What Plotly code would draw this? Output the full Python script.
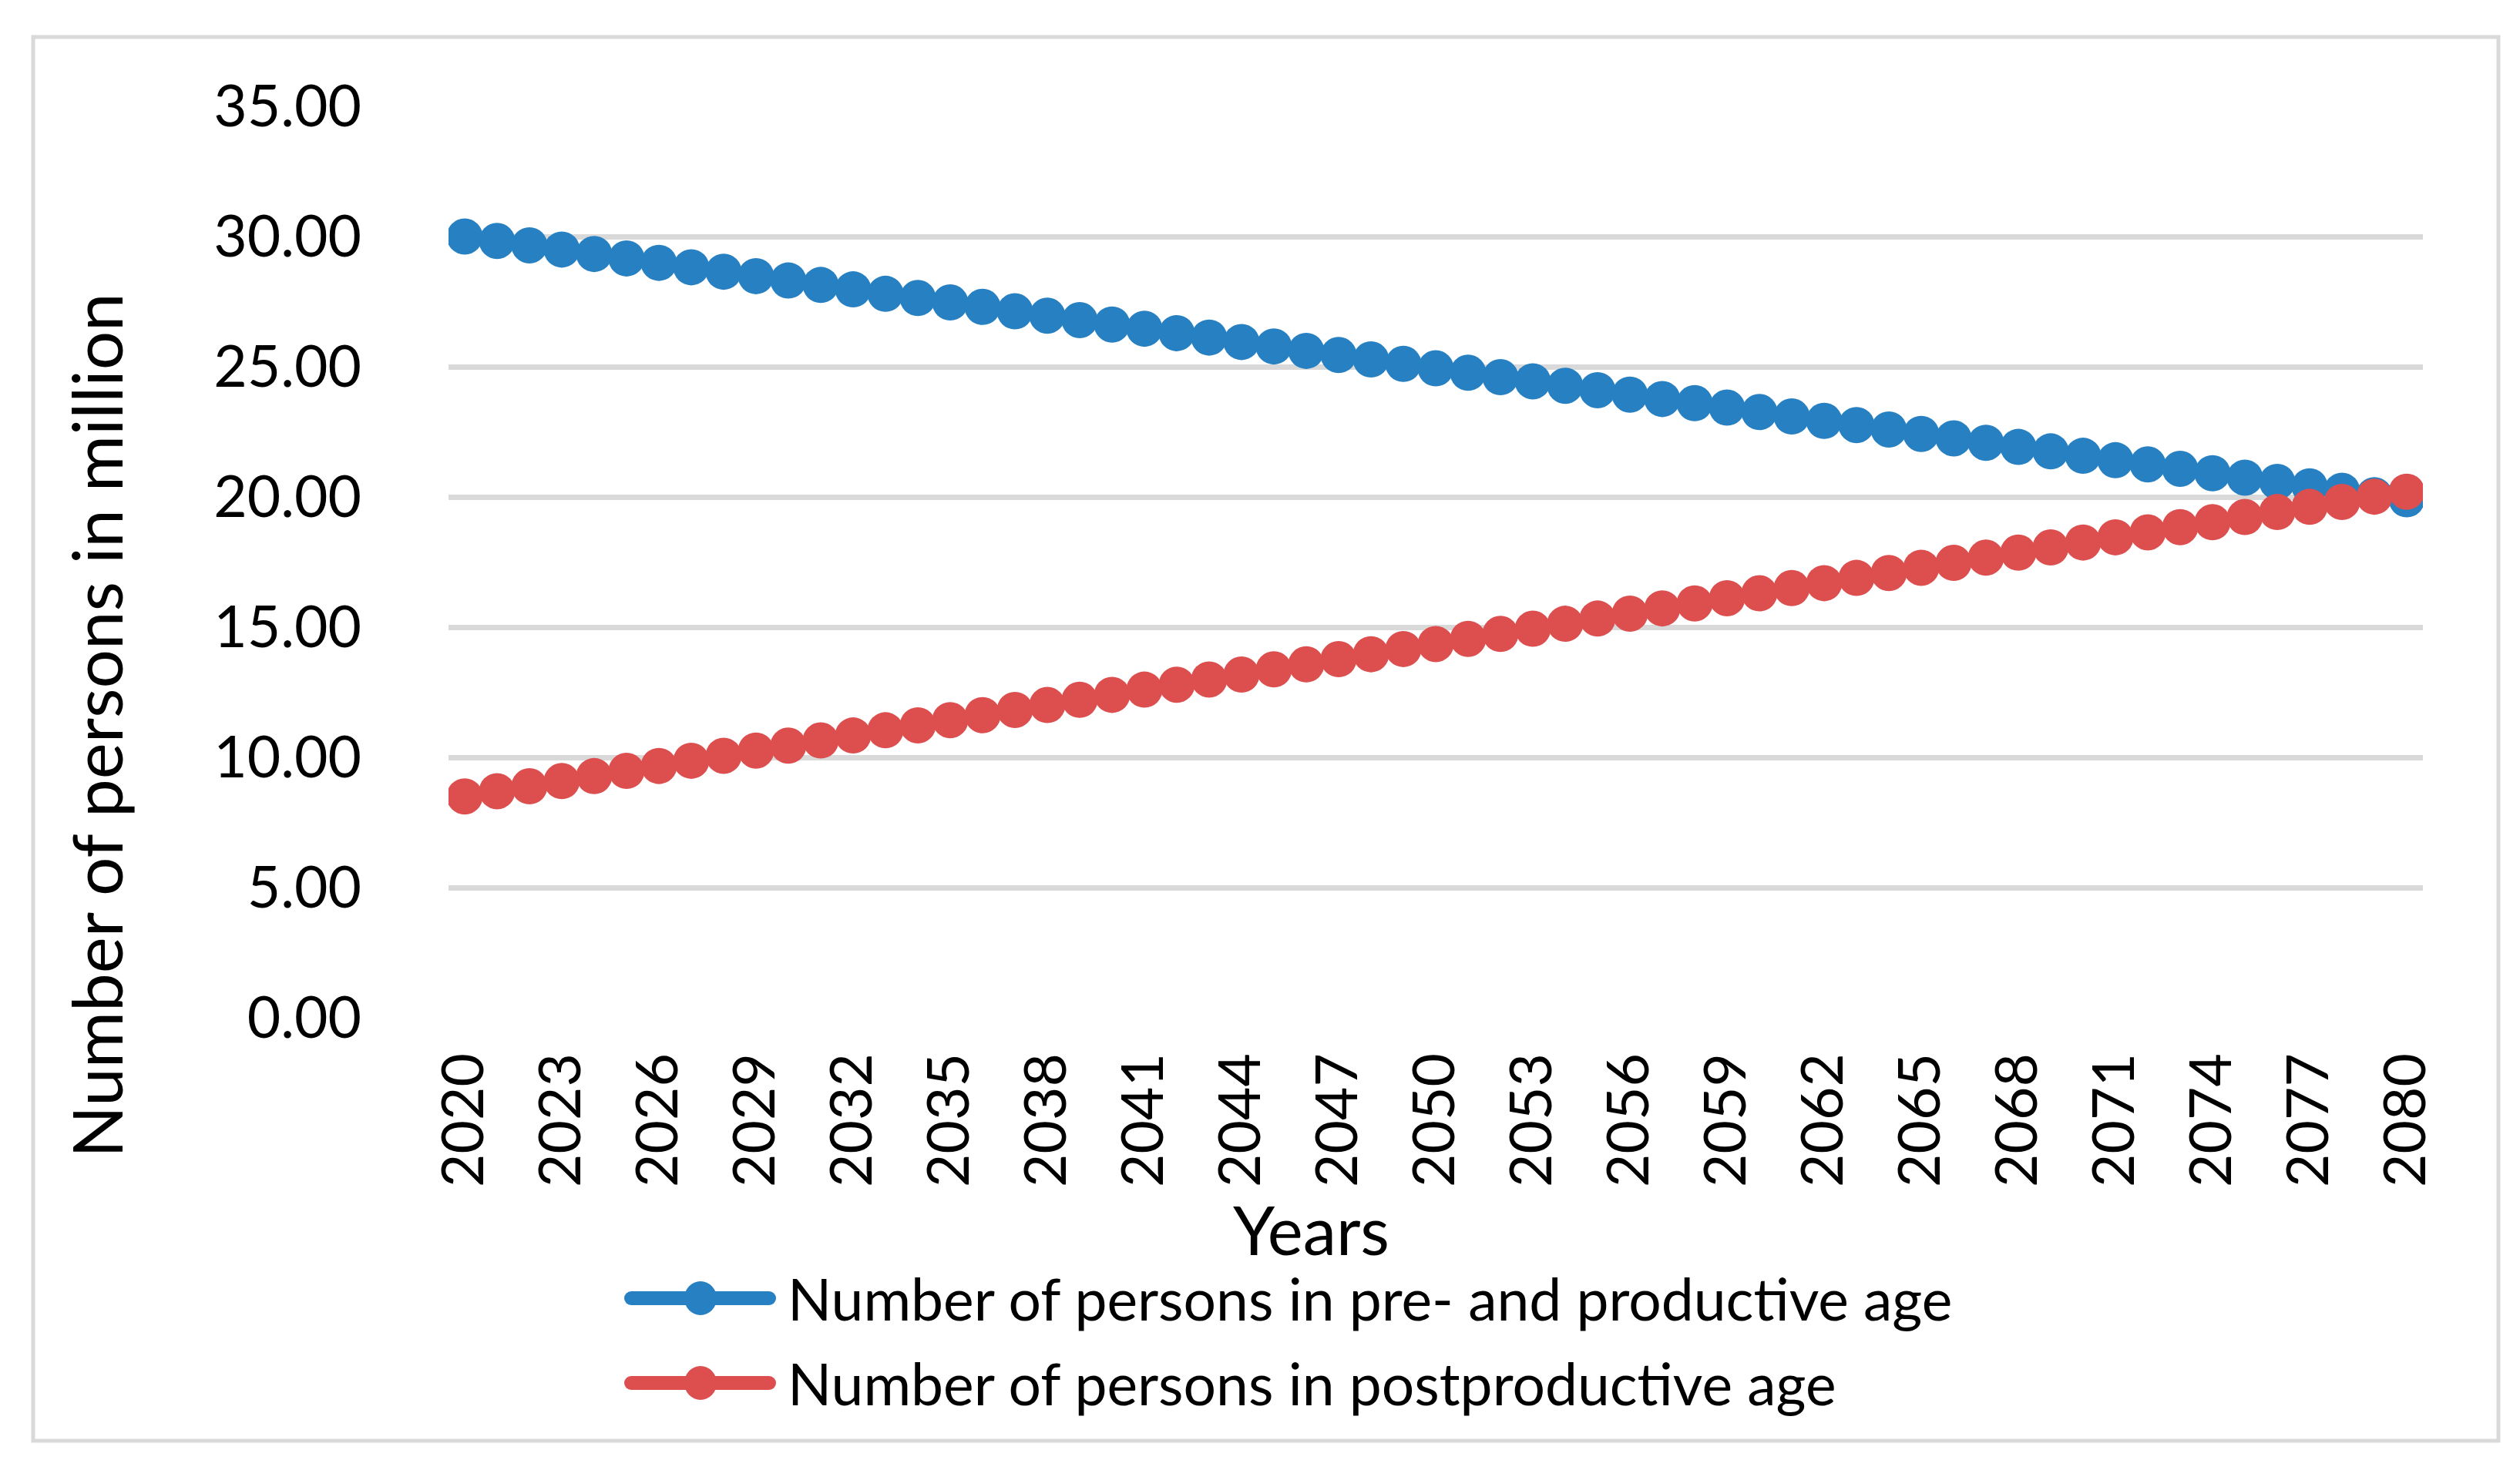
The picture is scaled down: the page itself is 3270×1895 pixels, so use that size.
import plotly.graph_objects as go

years = list(range(2020, 2081))

pre_productive = [
    30.00, 29.83, 29.66, 29.50, 29.33, 29.16, 28.99, 28.82, 28.65, 28.48,
    28.31, 28.14, 27.97, 27.80, 27.64, 27.47, 27.30, 27.13, 26.96, 26.79,
    26.62, 26.46, 26.29, 26.12, 25.95, 25.78, 25.61, 25.45, 25.28, 25.11,
    24.94, 24.77, 24.60, 24.44, 24.27, 24.10, 23.93, 23.76, 23.60, 23.43,
    23.26, 23.09, 22.92, 22.76, 22.59, 22.42, 22.25, 22.08, 21.92, 21.75,
    21.58, 21.41, 21.25, 21.08, 20.91, 20.74, 20.58, 20.41, 20.24, 20.07,
    19.91,
]

post_productive = [
    8.50, 8.70, 8.89, 9.09, 9.28, 9.48, 9.67, 9.87, 10.06, 10.26,
    10.45, 10.65, 10.84, 11.04, 11.23, 11.43, 11.62, 11.82, 12.01, 12.21,
    12.40, 12.60, 12.79, 12.99, 13.18, 13.38, 13.57, 13.77, 13.96, 14.16,
    14.35, 14.55, 14.74, 14.94, 15.13, 15.33, 15.52, 15.72, 15.91, 16.11,
    16.30, 16.50, 16.69, 16.89, 17.08, 17.28, 17.47, 17.67, 17.86, 18.06,
    18.25, 18.45, 18.64, 18.84, 19.03, 19.23, 19.42, 19.62, 19.81, 20.01,
    20.20,
]

series_names = [
    "Number of persons in pre- and productive age",
    "Number of persons in postproductive age",
]
series_colors = ["#2680C2", "#DD4F4F"]

x_tick_years = list(range(2020, 2081, 3))
y_tick_vals = [0, 5, 10, 15, 20, 25, 30, 35]

W, H = 3270, 1895
L, R, T, B = 574, 3136, 130, 1313  # plot area pixel edges
FONT = "Lato"


def px_x(px):
    return (px - L) / (R - L)


def px_y(py):
    return (B - py) / (B - T)


fig = go.Figure()
for vals, name, col in zip([pre_productive, post_productive], series_names, series_colors):
    fig.add_trace(go.Scatter(
        x=years, y=vals, mode="lines+markers", name=name,
        line=dict(color=col, width=10),
        marker=dict(color=col, size=47, line=dict(width=0)),
        showlegend=False,
    ))

fig.update_layout(
    width=W, height=H, autosize=False,
    margin=dict(l=L, r=W - R, t=T, b=H - B, pad=0),
    paper_bgcolor="white", plot_bgcolor="white",
    font=dict(family=FONT, color="black", size=75),
)

fig.update_xaxes(
    range=[2019.5, 2080.5], tickmode="array", tickvals=x_tick_years,
    ticktext=[str(v) for v in x_tick_years], tickangle=-90,
    showgrid=False, zeroline=False, showline=False,
    ticks="outside", ticklen=15, tickcolor="rgba(0,0,0,0)",
    tickfont=dict(size=75, family=FONT, color="black"),
)
fig.update_yaxes(
    range=[0, 35], tickmode="array", tickvals=y_tick_vals,
    ticktext=[f"{v:.2f}" for v in y_tick_vals],
    showgrid=True, gridcolor="#D9D9D9", gridwidth=6.5,
    zeroline=False, showline=False,
    ticks="outside", ticklen=97, tickcolor="rgba(0,0,0,0)",
    tickfont=dict(size=75, family=FONT, color="black"),
)

shapes = [
    dict(type="rect", xref="paper", yref="paper",
         x0=px_x(35), x1=px_x(3234), y0=px_y(40), y1=px_y(1862),
         line=dict(color="#D9D9D9", width=5), layer="below"),
]
annotations = [
    dict(text="Number of persons in million", xref="paper", yref="paper",
         x=px_x(116), y=px_y(934), xanchor="center", yanchor="middle",
         textangle=-90, showarrow=False, font=dict(size=89, family=FONT, color="black")),
    dict(text="Years", xref="paper", yref="paper",
         x=px_x(1693), y=px_y(1587), xanchor="center", yanchor="middle",
         showarrow=False, font=dict(size=87, family=FONT, color="black")),
]

legend_rows = [1677, 1787]
for name, col, row in zip(series_names, series_colors, legend_rows):
    shapes.append(dict(type="line", xref="paper", yref="paper",
                       x0=px_x(811), x1=px_x(990), y0=px_y(row), y1=px_y(row),
                       line=dict(color=col, width=18)))
    for cx in (811, 990):
        shapes.append(dict(type="circle", xref="paper", yref="paper",
                           x0=px_x(cx - 9), x1=px_x(cx + 9), y0=px_y(row - 9), y1=px_y(row + 9),
                           line=dict(width=0), fillcolor=col))
    shapes.append(dict(type="circle", xref="paper", yref="paper",
                       x0=px_x(880), x1=px_x(922), y0=px_y(row - 22), y1=px_y(row + 22),
                       line=dict(width=0), fillcolor=col))
    annotations.append(dict(text=name, xref="paper", yref="paper",
                            x=px_x(1012), y=px_y(row), xanchor="left", yanchor="middle",
                            showarrow=False, font=dict(size=75, family=FONT, color="black")))

fig.update_layout(shapes=shapes, annotations=annotations)

fig.write_html("out.html")
